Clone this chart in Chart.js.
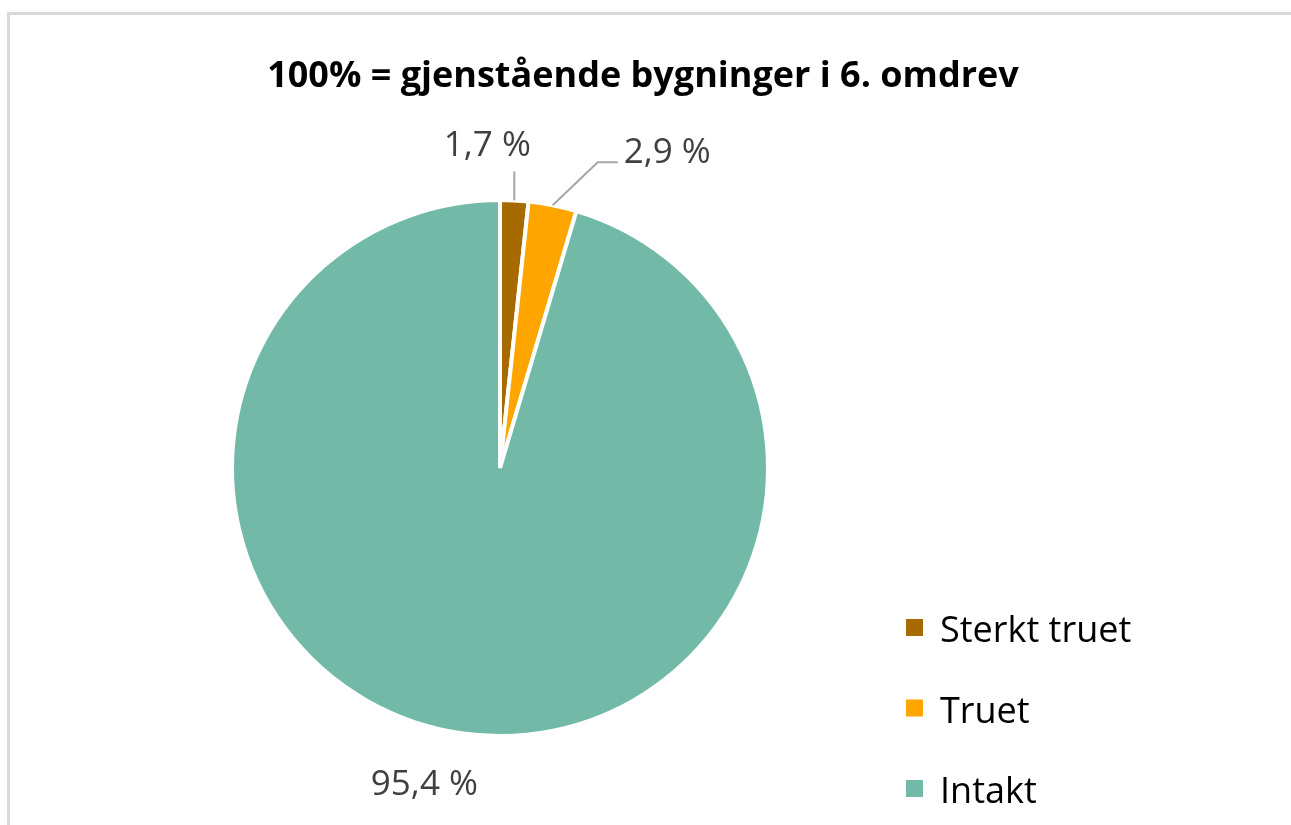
<!DOCTYPE html>
<html lang="no">
<head>
<meta charset="utf-8">
<title>Gjenstående bygninger i 6. omdrev</title>
<script src="https://cdn.jsdelivr.net/npm/chart.js@4.4.1/dist/chart.umd.min.js"></script>
<style>
  html, body { margin: 0; padding: 0; background: #fff; }
  #wrap { position: relative; width: 1291px; height: 825px; }
</style>
</head>
<body>
<div id="wrap"><canvas id="kake"></canvas></div>
<script>
// --- data ---
const tittel = '100% = gjenstående bygninger i 6. omdrev';
const kategorier = ['Sterkt truet', 'Truet', 'Intakt'];
const andeler = [1.7, 2.9, 95.4];
const farger = ['#A66A00', '#FFA500', '#72B9A8'];

const fontFamilie = '"Open Sans", Lato, sans-serif';

// etikett-plassering relativt til punktet på kanten av hver sektor
const etikettOppsett = [
    { linje: [[0, -29]], tekst: [-27, -44], justering: 'center' },
    { linje: [[45, -43], [65, -43]], tekst: [71, -42], justering: 'left' },
    { linje: [], tekst: [-37, 62], justering: 'center' }
];

function formater(v) {
    return v.toFixed(1).replace('.', ',') + ' %';
}

// Ramme, tittel, dataetiketter og forklaring tegnes her
const tegnPlugin = {
    id: 'tegnPlugin',
    beforeDraw(chart) {
        const ctx = chart.ctx;
        ctx.save();
        ctx.strokeStyle = '#d9d9d9';
        ctx.lineWidth = 3;
        ctx.beginPath();
        ctx.moveTo(8.5, 830);
        ctx.lineTo(8.5, 13.5);
        ctx.lineTo(1300, 13.5);
        ctx.stroke();

        ctx.fillStyle = '#000';
        ctx.font = 'bold 36px ' + fontFamilie;
        ctx.textAlign = 'center';
        ctx.textBaseline = 'alphabetic';
        ctx.fillText(tittel, 643, 87);
        ctx.restore();
    },
    afterDraw(chart) {
        const ctx = chart.ctx;
        const meta = chart.getDatasetMeta(0);
        ctx.save();
        meta.data.forEach((arc, i) => {
            const p = arc.getProps(['x', 'y', 'startAngle', 'endAngle', 'outerRadius'], true);
            const mid = (p.startAngle + p.endAngle) / 2;
            const r = p.outerRadius;
            const ax = p.x + Math.cos(mid) * r;
            const ay = p.y + Math.sin(mid) * r;
            const oppsett = etikettOppsett[i];

            if (oppsett.linje.length) {
                ctx.strokeStyle = '#a6a6a6';
                ctx.lineWidth = 2;
                ctx.beginPath();
                ctx.moveTo(ax, ay);
                oppsett.linje.forEach(pt => ctx.lineTo(ax + pt[0], ay + pt[1]));
                ctx.stroke();
            }

            ctx.fillStyle = '#404040';
            ctx.font = '35px ' + fontFamilie;
            ctx.textAlign = oppsett.justering;
            ctx.textBaseline = 'alphabetic';
            ctx.fillText(formater(andeler[i]), ax + oppsett.tekst[0], ay + oppsett.tekst[1]);
        });

        // forklaring
        ctx.font = '36px ' + fontFamilie;
        ctx.textAlign = 'left';
        ctx.textBaseline = 'alphabetic';
        kategorier.forEach((navn, i) => {
            const grunnlinje = 642 + i * 80.5;
            ctx.fillStyle = farger[i];
            ctx.fillRect(906, grunnlinje - 23, 17, 17);
            ctx.fillStyle = '#000';
            ctx.fillText(navn, 940, grunnlinje);
        });
        ctx.restore();
    }
};

new Chart(document.getElementById('kake'), {
    type: 'pie',
    data: {
        labels: kategorier,
        datasets: [{
            data: andeler,
            backgroundColor: farger,
            borderColor: '#ffffff',
            borderWidth: 4
        }]
    },
    options: {
        responsive: true,
        maintainAspectRatio: false,
        animation: false,
        layout: { padding: { left: 230, right: 521, top: 198, bottom: 87 } },
        plugins: {
            legend: { display: false },
            title: { display: false },
            tooltip: { enabled: false }
        }
    },
    plugins: [tegnPlugin]
});
</script>
</body>
</html>
